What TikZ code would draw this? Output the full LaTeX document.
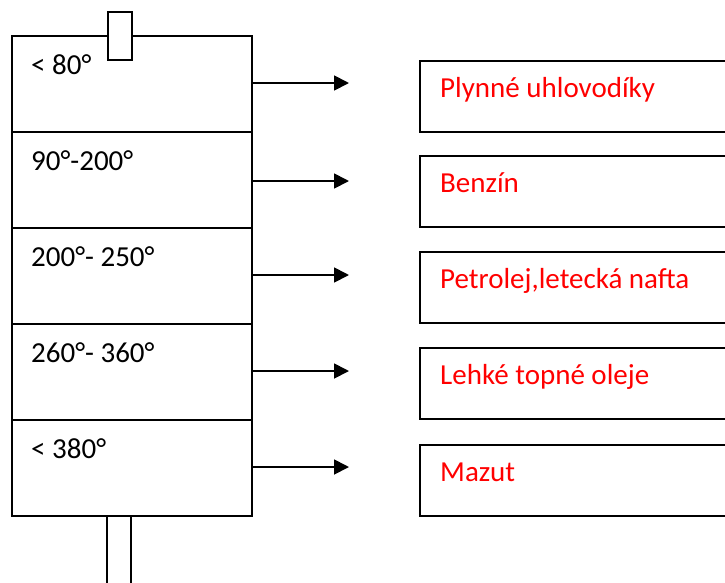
\documentclass[tikz,border=0pt]{standalone}
\usepackage{fontspec}
\setmainfont{Carlito}
\usetikzlibrary{arrows.meta}
\begin{document}
\begin{tikzpicture}[x=1pt,y=-1pt,
  line/.style={line width=1.8pt},
  section/.style={line, draw, rectangle, minimum width=240pt, minimum height=96pt,
    anchor=north west, inner sep=0pt},
  product/.style={line, draw, rectangle, minimum width=330pt, minimum height=71pt,
    anchor=north west, inner sep=0pt},
  templabel/.style={anchor=base west, inner sep=0pt, font=\fontsize{29}{34}\selectfont},
  prodlabel/.style={anchor=base west, inner sep=0pt, text=red, font=\fontsize{29}{34}\selectfont},
  flow/.style={line, -{Triangle[length=15pt,width=15pt]}}
]
\useasboundingbox (0,0) rectangle (725,582);
\clip (0,0) rectangle (725,582);

% column sections
\foreach \i/\y in {1/35,2/131,3/227,4/323,5/419}
  \node[section] (s\i) at (11,\y) {};

% top vapour outlet and bottom residue pipe
\node[line, draw, fill=white, rectangle, minimum width=24pt, minimum height=48pt,
  anchor=north west, inner sep=0pt] (top) at (107,11) {};
\coordinate (pl1) at (107,515);
\coordinate (pl2) at (107,590);
\coordinate (pr1) at (131,515);
\coordinate (pr2) at (131,590);
\draw[line] (pl1) -- (pl2);
\draw[line] (pr1) -- (pr2);

% temperature labels
\node[templabel] (t1) at (31,74)  {< 80°};
\node[templabel] (t2) at (31,170) {90°-200°};
\node[templabel] (t3) at (31,266) {200°- 250°};
\node[templabel] (t4) at (31,362) {260°- 360°};
\node[templabel] (t5) at (31,458) {< 380°};

% product boxes
\node[product] (b1) at (419,60)  {};
\node[product] (b2) at (419,155) {};
\node[product] (b3) at (419,251) {};
\node[product] (b4) at (419,347) {};
\node[product] (b5) at (419,444) {};

\node[prodlabel] (p1) at (440,97)  {Plynné uhlovodíky};
\node[prodlabel] (p2) at (440,192) {Benzín};
\node[prodlabel] (p3) at (440,288) {Petrolej,letecká nafta};
\node[prodlabel] (p4) at (440,384) {Lehké topné oleje};
\node[prodlabel] (p5) at (440,481) {Mazut};

% flow arrows
\foreach \i/\y in {1/83,2/181,3/275,4/371,5/467} {
  \coordinate (a\i) at (349,\y);
  \draw[flow] (s\i.east |- a\i) -- (a\i);
}
\end{tikzpicture}
\end{document}
